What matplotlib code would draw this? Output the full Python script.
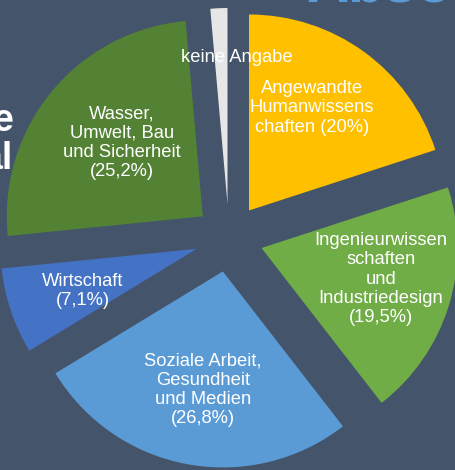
import matplotlib.pyplot as plt

# Anteil der Absolventen nach Fachbereich (in %)
categories = ["Angewandte\nHumanwissens\nchaften", "Ingenieurwissen\nschaften\nund\nIndustriedesign",
              "Soziale Arbeit,\nGesundheit\nund Medien", "Wirtschaft",
              "Wasser,\nUmwelt, Bau\nund Sicherheit", "keine Angabe"]
shares = [20.0, 19.5, 26.8, 7.1, 25.2, 1.4]
share_labels = ["(20%)", "(19,5%)", "(26,8%)", "(7,1%)", "(25,2%)", ""]
colors = ["#FFC000", "#70AD47", "#5B9BD5", "#4472C4", "#548235", "#E7E6E6"]

bg = "#44546A"
W, H = 455, 470

fig = plt.figure(figsize=(W / 100, H / 100), dpi=100, facecolor=bg)
ax = fig.add_axes([0, 0, 1, 1])
ax.set_facecolor(bg)

# explode is in data units here (radius != 1)
ax.pie(shares, colors=colors, startangle=90, counterclock=False,
       center=(229, H - 238), radius=196, explode=[34] * len(shares),
       wedgeprops=dict(linewidth=0), frame=True)
ax.set_xlim(0, W)
ax.set_ylim(0, H)
ax.set_aspect("equal")
ax.axis("off")

# label centres in pixels from top-left
label_pos = [(312, 108), (381, 279), (203, 390), (83, 291), (122, 143), (237, 57)]
for cat, sl, (x, y) in zip(categories, share_labels, label_pos):
    if cat == "Angewandte\nHumanwissens\nchaften":
        txt = cat + " " + sl
    elif cat == "keine Angabe":
        txt = cat
    else:
        txt = cat + "\n" + sl
    ax.text(x, H - y, txt, ha="center", va="center", color="white",
            fontsize=13.2, family="Liberation Sans", linespacing=1.17)

# cut-off slide title fragments
ax.text(307, H - 1, "Absolventen", ha="left", va="baseline", color="#5B9BD5",
        fontsize=42, fontweight="bold", family="Liberation Sans")
ax.text(13, H - 131, "e", ha="right", va="baseline", color="white",
        fontsize=27, fontweight="bold", family="Liberation Sans")
ax.text(13, H - 169, "al", ha="right", va="baseline", color="white",
        fontsize=27, fontweight="bold", family="Liberation Sans")

fig.savefig("out.png", dpi=100, facecolor=bg)
